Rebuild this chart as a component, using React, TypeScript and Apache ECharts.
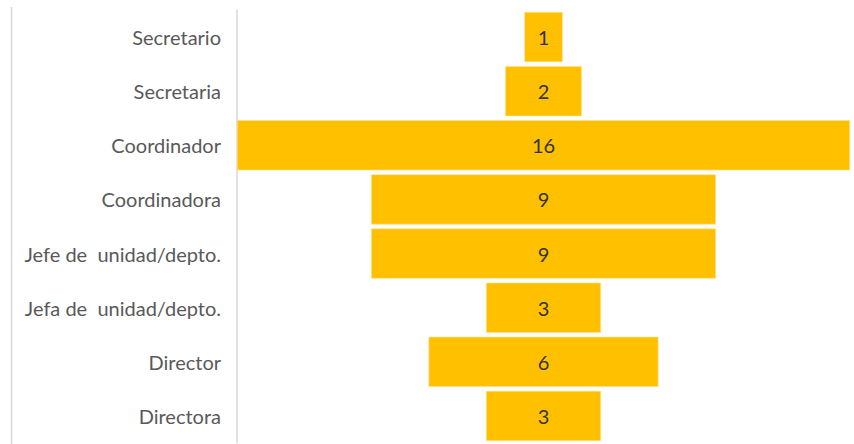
import React, { useEffect, useRef } from "react";
import * as echarts from "echarts";

const categories = [
  "Secretario",
  "Secretaria",
  "Coordinador",
  "Coordinadora",
  "Jefe de  unidad/depto.",
  "Jefa de  unidad/depto.",
  "Director",
  "Directora",
];
const values = [1, 2, 16, 9, 9, 3, 6, 3];
const maxValue = 16;

export default function App() {
  const ref = useRef<HTMLDivElement>(null);
  useEffect(() => {
    const chart = echarts.init(ref.current!, null, { renderer: "svg" });
    const offsets = values.map((v) => (maxValue - v) / 2);
    chart.setOption({
      animation: false,
      backgroundColor: "#ffffff",
      grid: { left: 237, right: 4, top: 10, bottom: 1 },
      xAxis: {
        type: "value",
        min: 0,
        max: maxValue,
        show: false,
      },
      yAxis: {
        type: "category",
        data: categories,
        inverse: true,
        axisLine: { show: true, lineStyle: { color: "#d9d9d9", width: 1.5 } },
        axisTick: { show: false },
        axisLabel: {
          margin: 16,
          fontFamily: "Lato",
          fontSize: 20,
          color: "#595959",
        },
      },
      graphic: [
        {
          type: "line",
          shape: { x1: 11.5, y1: 7, x2: 11.5, y2: 444 },
          style: { stroke: "#d9d9d9", lineWidth: 1.5 },
        },
      ],
      series: [
        {
          type: "bar",
          stack: "f",
          data: offsets,
          itemStyle: { color: "transparent" },
          barCategoryGap: "7.6%",
          silent: true,
        },
        {
          type: "bar",
          stack: "f",
          data: values,
          barCategoryGap: "7.6%",
          itemStyle: { color: "#FFC000", borderColor: "#FFE08A", borderWidth: 0.6 },
          label: {
            show: true,
            position: "inside",
            fontFamily: "Lato",
            fontSize: 20,
            color: "#333333",
          },
        },
      ],
    });
    return () => chart.dispose();
  }, []);
  return <div ref={ref} style={{ width: 854, height: 444, position: "absolute", left: 0, top: 0 }} />;
}
